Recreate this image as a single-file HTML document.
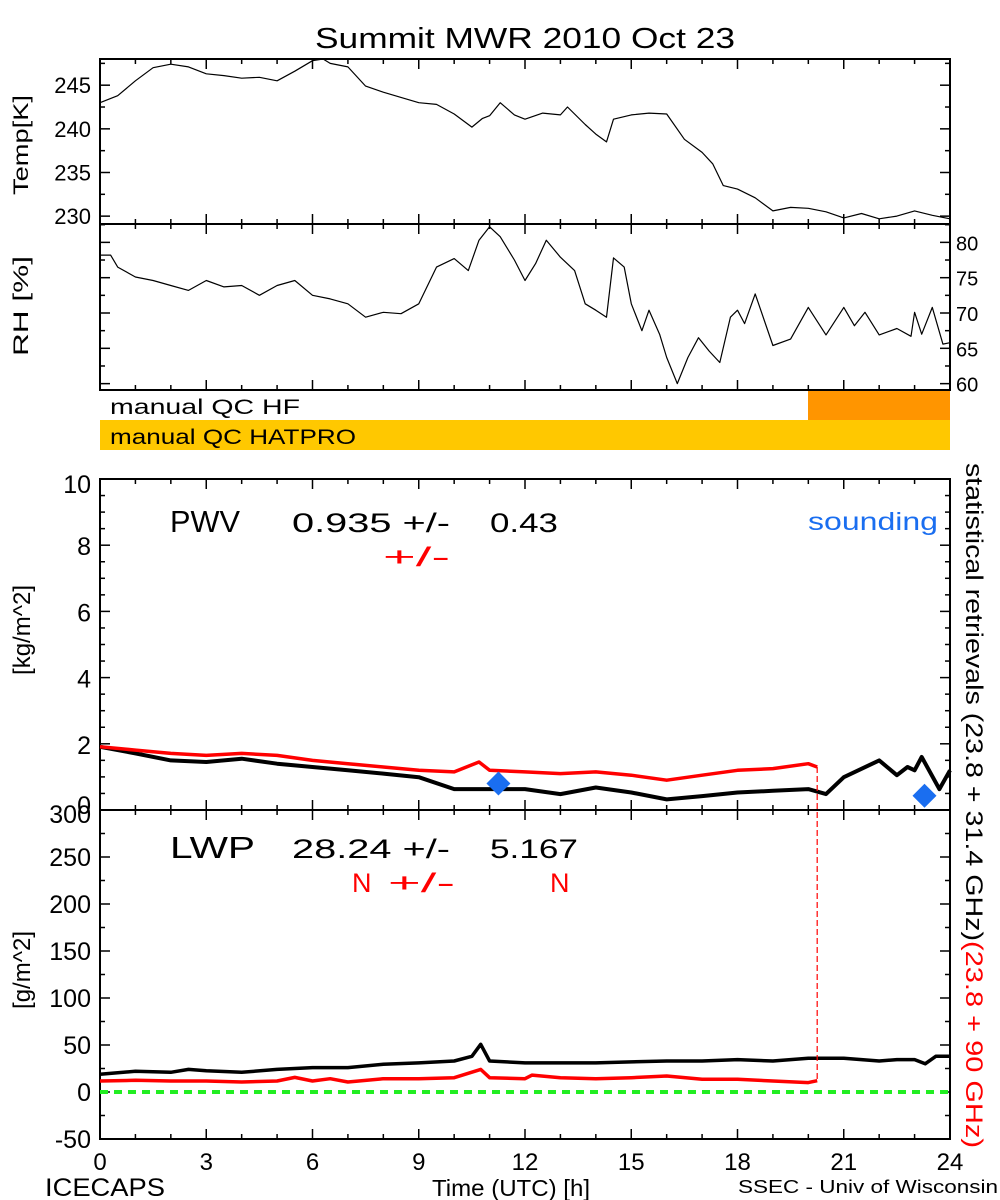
<!DOCTYPE html>
<html><head><meta charset="utf-8"><style>
html,body{margin:0;padding:0;background:#fff;}
svg{display:block;font-family:"Liberation Sans",sans-serif;}
</style></head><body>
<svg id="chart" width="1000" height="1200" viewBox="0 0 1000 1200">
<text x="315" y="48" font-size="29" textLength="420" lengthAdjust="spacingAndGlyphs">Summit MWR 2010 Oct 23</text>
<rect x="100" y="390" width="850" height="30" fill="#fff"/>
<rect x="808" y="390" width="142" height="30" fill="#FF9500"/>
<rect x="100" y="420" width="850" height="30" fill="#FFC800"/>
<text x="110" y="414" font-size="21" textLength="190" lengthAdjust="spacingAndGlyphs">manual QC HF</text>
<text x="110" y="444" font-size="21" textLength="246" lengthAdjust="spacingAndGlyphs">manual QC HATPRO</text>
<g id="axes"></g>
<g id="series"></g>
<text transform="translate(28,195) rotate(-90)" font-size="21" textLength="100" lengthAdjust="spacingAndGlyphs">Temp[K]</text>
<text transform="translate(28,356) rotate(-90)" font-size="21" textLength="100" lengthAdjust="spacingAndGlyphs">RH [%]</text>
<text transform="translate(30,630) rotate(-90)" font-size="24" text-anchor="middle">[kg/m^2]</text>
<text transform="translate(30,970) rotate(-90)" font-size="24" text-anchor="middle">[g/m^2]</text>
<text transform="translate(966,463) rotate(90)" font-size="24"><tspan textLength="478" lengthAdjust="spacingAndGlyphs">statistical retrievals (23.8 + 31.4 GHz)</tspan><tspan fill="#ff0000" textLength="207" lengthAdjust="spacingAndGlyphs">(23.8 + 90 GHz)</tspan></text>
<text x="170" y="532" font-size="31" textLength="70" lengthAdjust="spacingAndGlyphs">PWV</text>
<text x="292" y="532" font-size="27" textLength="158" lengthAdjust="spacingAndGlyphs">0.935 +/-</text>
<text x="490" y="532" font-size="27" textLength="68" lengthAdjust="spacingAndGlyphs">0.43</text>
<text x="383" y="566" font-size="27" fill="#ff0000" textLength="67" lengthAdjust="spacingAndGlyphs">+/-</text>
<text x="808" y="530" font-size="25" fill="#1a6ef0" textLength="130" lengthAdjust="spacingAndGlyphs">sounding</text>
<text x="170" y="858" font-size="31" textLength="85" lengthAdjust="spacingAndGlyphs">LWP</text>
<text x="292" y="858" font-size="27" textLength="158" lengthAdjust="spacingAndGlyphs">28.24 +/-</text>
<text x="490" y="858" font-size="27" textLength="88" lengthAdjust="spacingAndGlyphs">5.167</text>
<text x="352" y="892" font-size="27" fill="#ff0000">N</text>
<text x="388" y="892" font-size="27" fill="#ff0000" textLength="67" lengthAdjust="spacingAndGlyphs">+/-</text>
<text x="550" y="892" font-size="27" fill="#ff0000">N</text>
<text x="45" y="1196" font-size="25" textLength="120" lengthAdjust="spacingAndGlyphs">ICECAPS</text>
<text x="432" y="1196" font-size="23" textLength="158" lengthAdjust="spacingAndGlyphs">Time (UTC) [h]</text>
<text x="738" y="1193" font-size="18" textLength="260" lengthAdjust="spacingAndGlyphs">SSEC - Univ of Wisconsin</text>
</svg>
<script>
const tempHours=[0,0.5,1,1.5,2,2.5,3,3.5,4,4.5,5,5.5,6,6.3,6.5,7,7.5,8,8.5,9,9.5,10,10.5,10.8,11,11.3,11.7,12,12.5,13,13.2,13.7,14,14.3,14.5,15,15.5,16,16.5,17,17.3,17.6,18,18.5,19,19.5,20,20.5,21,21.5,22,22.5,23,23.5,24];
const tempVals=[243.0,243.8,245.5,247.0,247.4,247.1,246.3,246.1,245.8,245.9,245.5,246.6,247.8,248.0,247.5,247.1,244.9,244.2,243.6,243.0,242.8,241.7,240.2,241.2,241.5,243.0,241.6,241.1,241.8,241.6,242.5,240.5,239.4,238.5,241.1,241.6,241.8,241.7,238.8,237.3,236.0,233.5,233.1,232.1,230.6,231.0,230.9,230.5,229.8,230.3,229.7,230.0,230.6,230.1,229.7];
const rhHours=[0,0.3,0.5,1,1.5,2,2.5,3,3.5,4,4.5,5,5.5,6,6.5,7,7.5,8,8.5,9,9.5,10,10.4,10.7,11,11.3,11.7,12,12.3,12.6,13,13.4,13.7,14,14.3,14.5,14.8,15,15.3,15.5,15.8,16,16.3,16.6,16.9,17.2,17.5,17.8,18,18.2,18.5,19,19.5,20,20.5,21,21.3,21.6,22,22.5,22.9,23,23.2,23.5,23.8,24];
const rhVals=[78.2,78.2,76.5,75.1,74.6,73.9,73.2,74.6,73.7,73.9,72.5,73.9,74.6,72.5,72.0,71.3,69.4,70.1,69.9,71.3,76.5,77.7,76.0,80.3,82.2,80.8,77.5,74.6,77.0,80.3,77.9,76.0,71.3,70.4,69.4,77.8,76.5,71.3,67.5,70.4,67.0,63.7,60.0,63.7,66.5,64.6,63.0,69.4,70.4,68.5,72.7,65.4,66.3,70.8,66.9,70.8,68.2,70.1,66.9,67.8,66.7,70.1,67.0,70.8,65.6,65.8];
const pwvHours=[0,1,2,3,4,5,6,7,8,9,10,10.7,11,12,13,14,15,16,17,18,19,20,20.25];
const pwvRed=[1.91,1.81,1.71,1.65,1.71,1.65,1.5,1.4,1.3,1.2,1.15,1.45,1.2,1.15,1.1,1.15,1.05,0.9,1.05,1.2,1.25,1.4,1.3];
const pwvBlackHours=[0,1,2,3,4,5,6,7,8,9,10,11,12,13,14,15,16,17,18,19,20,20.5,21,22,22.5,22.8,23,23.2,23.7,24];
const pwvBlack=[1.91,1.71,1.5,1.45,1.55,1.4,1.3,1.2,1.1,0.99,0.63,0.63,0.63,0.48,0.68,0.53,0.32,0.42,0.53,0.58,0.63,0.48,0.99,1.5,1.05,1.3,1.2,1.6,0.63,1.2];
const soundingHours=[11.25,23.28];
const soundingVals=[0.8,0.43];
const lwpHours=[0,1,2,2.5,3,4,5,6,7,8,9,10,10.5,10.75,11,12,13,14,15,16,17,18,19,20,21,22,22.5,23,23.3,23.6,24];
const lwpBlack=[18.8,22,21,24,22.5,21,24,26,26,29.5,31,33,38,50.7,33,31,31,31,32,33,33,34.5,33,36,36,33,34.5,34.5,30,38,38];
const lwpRedHours=[0,1,2,3,4,5,5.5,6,6.5,7,8,9,10,10.75,11,12,12.2,13,14,15,16,17,18,19,20,20.25];
const lwpRed=[11.7,12.4,11.7,11.7,10.6,11.7,15.5,11.7,14.2,10.6,14.2,14.2,15.2,24,15.2,14.2,18,15.2,14.2,15.2,17,13.5,13.5,11.7,10,12];
const tempTicks=[230,235,240,245];
const rhTicks=[60,65,70,75,80];
const pwvTicks=[0,2,4,6,8,10];
const lwpTicks=[-50,0,50,100,150,200,250,300];
const hourTicks=[0,3,6,9,12,15,18,21,24];

const NS="http://www.w3.org/2000/svg";
const X0=100,X1=950;
const xS=h=>X0+h*(X1-X0)/24;
const P={temp:{t:59,b:224,min:229.1,max:248.0},rh:{t:224,b:390,min:59.1,max:82.6},pwv:{t:479,b:810,min:0,max:10},lwp:{t:810,b:1139,min:-50,max:300}};
function yS(p,v){const q=P[p];return q.b-(v-q.min)/(q.max-q.min)*(q.b-q.t);}
const axes=document.getElementById('axes'),series=document.getElementById('series');
function mk(tag,attrs,parent){const e=document.createElementNS(NS,tag);for(const k in attrs)e.setAttribute(k,attrs[k]);parent.appendChild(e);return e;}
function line(x1,y1,x2,y2,parent,w){return mk('line',{x1,y1,x2,y2,stroke:'#000','stroke-width':w||1.5},parent);}

['temp','rh','pwv','lwp'].forEach(p=>{
  const q=P[p];
  const r=mk('rect',{x:X0,y:q.t,width:X1-X0,height:q.b-q.t,fill:'none',stroke:'#000','stroke-width':2},axes);
  
  
  for(let h=0;h<=24;h++){
    const L=(h%3===0)?10:5;
    line(xS(h),q.b,xS(h),q.b-L,axes,1.5);
    line(xS(h),q.t,xS(h),q.t+L,axes,1.5);
  }
});
function yTicks(p,major,minorStep){
  const q=P[p];
  for(let v=Math.ceil(q.min/minorStep)*minorStep;v<=q.max+1e-6;v+=minorStep){
    const y=yS(p,v);
    const isMaj=major.some(m=>Math.abs(m-v)<1e-6);
    const L=isMaj?10:5;
    line(X0,y,X0+L,y,axes,1.5);
    line(X1,y,X1-L,y,axes,1.5);
  }
}
yTicks('temp',tempTicks,2.5);
yTicks('rh',rhTicks,2.5);
yTicks('pwv',pwvTicks,0.5);
yTicks('lwp',lwpTicks,25);

tempTicks.forEach(v=>{const t=mk('text',{x:91,y:yS('temp',v)+8,'font-size':22,'text-anchor':'end'},axes);t.textContent=v;

});
rhTicks.forEach(v=>{const t=mk('text',{x:956,y:yS('rh',v)+8,'font-size':20},axes);t.textContent=v;

});
pwvTicks.forEach(v=>{let y=yS('pwv',v)+10;if(v===0)y-=6;if(v===10)y+=4;const t=mk('text',{x:91,y:y,'font-size':25,'text-anchor':'end'},axes);t.textContent=v;

});
lwpTicks.forEach(v=>{let y=yS('lwp',v)+9;if(v===300)y+=4;const t=mk('text',{x:91,y:y,'font-size':25,'text-anchor':'end'},axes);t.textContent=v;

});
hourTicks.forEach(h=>{const t=mk('text',{x:xS(h),y:1170,'font-size':24,'text-anchor':'middle'},axes);t.textContent=h;

});

function path(hrs,vals,p,color,w,name){
  const d=hrs.map((h,i)=>(i?'L':'M')+xS(h).toFixed(1)+' '+yS(p,vals[i]).toFixed(1)).join(' ');
  const e=mk('path',{d,fill:'none',stroke:color,'stroke-width':w,'stroke-linejoin':'round'},series);
  
  
  return e;
}
path(tempHours,tempVals,'temp','#000',1.2,'temp-line');
path(rhHours,rhVals,'rh','#000',1.2,'rh-line');
const z=mk('line',{x1:X0,x2:X1,y1:yS('lwp',0),y2:yS('lwp',0),stroke:'#22ee22','stroke-width':4,'stroke-dasharray':'8 6'},series);


path(pwvBlackHours,pwvBlack,'pwv','#000',4,'pwv-black-line');
path(pwvHours,pwvRed,'pwv','#ff0000',3.5,'pwv-red-line');
path(lwpHours,lwpBlack,'lwp','#000',3.5,'lwp-black-line');
path(lwpRedHours,lwpRed,'lwp','#ff0000',3.5,'lwp-red-line');
const lastH=pwvHours[pwvHours.length-1];
const dr=mk('line',{x1:xS(lastH),x2:xS(lastH),y1:yS('pwv',pwvRed[pwvRed.length-1]),y2:yS('lwp',lwpRed[lwpRed.length-1]),stroke:'#ff0000','stroke-width':1.2,'stroke-dasharray':'6 3'},series);


soundingHours.forEach((h,i)=>{
  const cx=xS(h),cy=yS('pwv',soundingVals[i]);
  const d=mk('polygon',{points:`${cx},${cy-12} ${cx+12},${cy} ${cx},${cy+12} ${cx-12},${cy}`,fill:'#1a6ef0'},series);
  
  
});
</script>
</body></html>
